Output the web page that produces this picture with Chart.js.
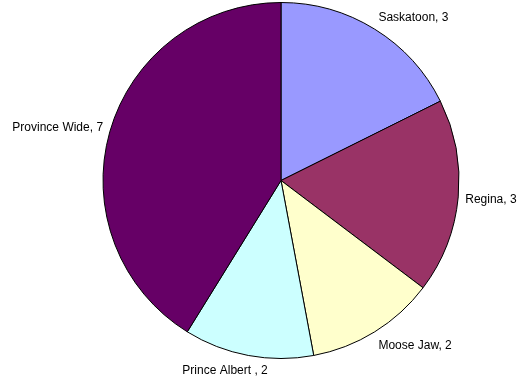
<!DOCTYPE html>
<html>
<head>
<meta charset="utf-8">
<script src="https://cdn.jsdelivr.net/npm/chart.js@4"></script>
<style>
  html, body { margin: 0; padding: 0; background: #fff; }
  #wrap { width: 521px; height: 379px; position: relative; }
</style>
</head>
<body>
<div id="wrap"><canvas id="c" width="521" height="379"></canvas></div>
<script>
// Projects by region
const categories = ['Saskatoon', 'Regina', 'Moose Jaw', 'Prince Albert ', 'Province Wide'];
const counts = [3, 3, 2, 2, 7];
const sliceColors = ['#9999FF', '#993366', '#FFFFCC', '#CCFFFF', '#660066'];

// Draws "Category, value" beside each slice, outside the pie edge
const outsideLabels = {
  id: 'outsideLabels',
  afterDatasetsDraw(chart) {
    const ctx = chart.ctx;
    const meta = chart.getDatasetMeta(0);
    ctx.save();
    ctx.font = '12px "Liberation Sans", Arial, sans-serif';
    ctx.fillStyle = '#000';
    ctx.textAlign = 'center';
    ctx.textBaseline = 'middle';
    meta.data.forEach((arc, i) => {
      const p = arc.getProps(['x', 'y', 'startAngle', 'endAngle', 'outerRadius'], true);
      const mid = (p.startAngle + p.endAngle) / 2;
      const r = p.outerRadius + 7;
      const px = p.x + Math.cos(mid) * r;
      const py = p.y + Math.sin(mid) * r;
      const text = chart.data.labels[i] + ', ' + chart.data.datasets[0].data[i];
      const w = ctx.measureText(text).width;
      const h = 14;
      const fx = Math.max(-1, Math.min(1, Math.cos(mid) * 2.8));
      const fy = Math.max(-1, Math.min(1, Math.sin(mid) * 1.5));
      ctx.fillText(text, px + fx * w / 2, py + fy * h / 2 + 1);
    });
    ctx.restore();
  }
};

new Chart(document.getElementById('c'), {
  type: 'pie',
  data: {
    labels: categories,
    datasets: [{
      data: counts,
      backgroundColor: sliceColors,
      borderColor: '#000',
      borderWidth: 1
    }]
  },
  options: {
    responsive: false,
    animation: false,
    layout: { padding: { top: 2, bottom: 20, left: 100, right: 59 } },
    plugins: {
      legend: { display: false },
      tooltip: { enabled: false }
    }
  },
  plugins: [outsideLabels]
});
</script>
</body>
</html>
